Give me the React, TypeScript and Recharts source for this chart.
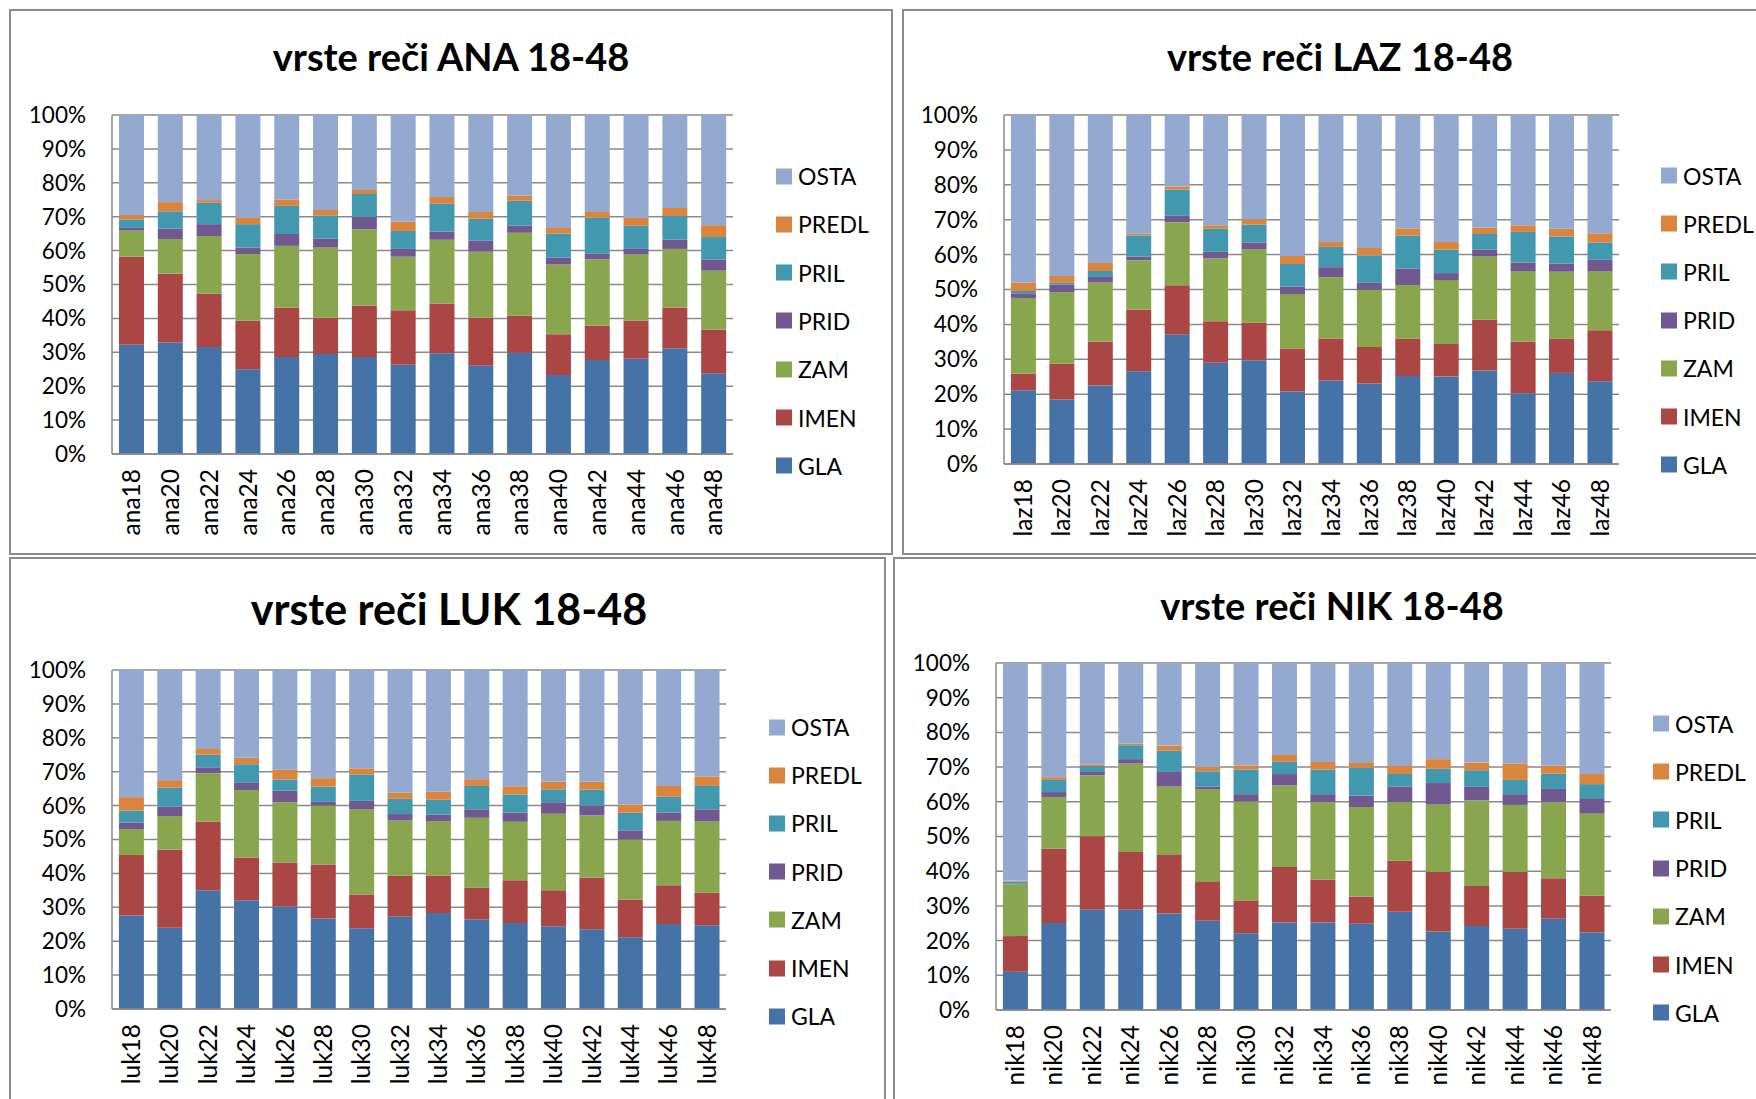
import React from 'react';
import { BarChart, Bar, XAxis, YAxis, CartesianGrid } from 'recharts';

// ---------- data ----------
const SERIES_NAMES = ['GLA', 'IMEN', 'ZAM', 'PRID', 'PRIL', 'PREDL', 'OSTA'];
const SERIES_COLORS = ['#4572A7', '#AA4643', '#89A54E', '#71588F', '#4198AF', '#DB843D', '#93A9CF'];
const Y_TICKS = [0, 0.1, 0.2, 0.3, 0.4, 0.5, 0.6, 0.7, 0.8, 0.9, 1];

const ANA_CATS = ['ana18', 'ana20', 'ana22', 'ana24', 'ana26', 'ana28', 'ana30', 'ana32', 'ana34', 'ana36', 'ana38', 'ana40', 'ana42', 'ana44', 'ana46', 'ana48'];
const ANA_GLA = [32.2, 32.9, 31.6, 25.0, 28.6, 29.5, 28.6, 26.3, 29.7, 26.0, 29.9, 23.3, 27.7, 28.1, 31.2, 23.8];
const ANA_IMEN = [26.0, 20.3, 15.7, 14.3, 14.6, 10.7, 15.2, 16.1, 14.7, 14.2, 10.9, 12.0, 10.2, 11.3, 12.0, 12.9];
const ANA_ZAM = [7.7, 10.2, 17.0, 19.7, 18.2, 20.7, 22.5, 15.8, 18.8, 19.5, 24.5, 20.6, 19.5, 19.5, 17.3, 17.4];
const ANA_PRID = [0.8, 3.1, 3.5, 1.9, 3.5, 2.6, 3.7, 2.3, 2.4, 3.3, 2.0, 2.0, 1.7, 1.6, 2.7, 3.2];
const ANA_PRIL = [2.5, 5.1, 6.3, 6.9, 8.3, 6.9, 6.7, 5.3, 8.2, 6.4, 7.4, 7.1, 10.6, 6.8, 7.0, 6.7];
const ANA_PREDL = [1.3, 2.7, 0.8, 1.9, 1.9, 1.6, 1.2, 2.7, 2.0, 2.0, 1.5, 1.7, 1.7, 2.4, 2.4, 3.5];
const ANA_OSTA = [29.5, 25.7, 25.1, 30.3, 24.9, 28.0, 22.1, 31.5, 24.2, 28.6, 23.8, 33.3, 28.6, 30.3, 27.4, 32.5];

const LAZ_CATS = ['laz18', 'laz20', 'laz22', 'laz24', 'laz26', 'laz28', 'laz30', 'laz32', 'laz34', 'laz36', 'laz38', 'laz40', 'laz42', 'laz44', 'laz46', 'laz48'];
const LAZ_GLA = [21.1, 18.5, 22.5, 26.6, 37.0, 29.0, 29.7, 20.8, 23.9, 23.1, 25.2, 25.1, 26.8, 20.3, 26.1, 23.7];
const LAZ_IMEN = [4.8, 10.2, 12.6, 17.7, 14.2, 11.9, 10.8, 12.3, 12.0, 10.4, 10.7, 9.3, 14.5, 14.8, 9.8, 14.6];
const LAZ_ZAM = [21.7, 20.5, 16.9, 14.1, 18.1, 18.0, 21.0, 15.6, 17.6, 16.4, 15.4, 18.3, 18.2, 20.1, 19.2, 16.9];
const LAZ_PRID = [1.3, 2.2, 1.6, 1.0, 1.8, 1.9, 2.0, 2.1, 2.9, 2.0, 4.7, 2.0, 1.9, 2.5, 2.3, 3.3];
const LAZ_PRIL = [0.7, 0.5, 1.7, 6.1, 7.5, 6.6, 5.1, 6.5, 5.8, 7.9, 9.5, 6.7, 4.5, 8.8, 7.8, 5.0];
const LAZ_PREDL = [2.3, 2.0, 2.3, 0.5, 0.9, 1.0, 1.5, 2.3, 1.4, 2.1, 2.0, 2.2, 1.8, 1.9, 2.2, 2.6];
const LAZ_OSTA = [48.1, 46.1, 42.4, 34.0, 20.5, 31.6, 29.9, 40.4, 36.4, 38.1, 32.5, 36.4, 32.3, 31.6, 32.6, 33.9];

const LUK_CATS = ['luk18', 'luk20', 'luk22', 'luk24', 'luk26', 'luk28', 'luk30', 'luk32', 'luk34', 'luk36', 'luk38', 'luk40', 'luk42', 'luk44', 'luk46', 'luk48'];
const LUK_GLA = [27.6, 24.0, 35.0, 32.1, 30.2, 26.7, 23.8, 27.2, 28.3, 26.5, 25.4, 24.4, 23.5, 21.2, 25.1, 24.7];
const LUK_IMEN = [17.8, 23.0, 20.3, 12.6, 13.0, 15.9, 10.0, 12.1, 11.1, 9.3, 12.6, 10.6, 15.3, 11.1, 11.4, 9.6];
const LUK_ZAM = [7.7, 9.9, 14.2, 19.9, 17.8, 17.4, 25.1, 16.3, 15.9, 20.6, 17.2, 22.6, 18.3, 17.7, 19.0, 21.0];
const LUK_PRID = [1.9, 2.8, 1.8, 2.1, 3.4, 1.1, 2.5, 1.9, 2.0, 2.5, 2.8, 3.4, 2.9, 2.7, 2.4, 3.6];
const LUK_PRIL = [3.5, 5.6, 3.7, 5.5, 3.3, 4.5, 7.8, 4.5, 4.4, 6.9, 5.3, 3.8, 4.7, 5.2, 4.7, 6.9];
const LUK_PREDL = [4.0, 2.2, 1.7, 1.9, 2.9, 2.5, 1.8, 1.8, 2.4, 2.0, 2.4, 2.2, 2.3, 2.4, 3.2, 2.8];
const LUK_OSTA = [37.5, 32.5, 23.3, 25.9, 29.4, 31.9, 29.0, 36.2, 35.9, 32.2, 34.3, 33.0, 33.0, 39.7, 34.2, 31.4];

const NIK_CATS = ['nik18', 'nik20', 'nik22', 'nik24', 'nik26', 'nik28', 'nik30', 'nik32', 'nik34', 'nik36', 'nik38', 'nik40', 'nik42', 'nik44', 'nik46', 'nik48'];
const NIK_GLA = [11.0, 25.1, 28.9, 28.9, 27.8, 25.7, 22.1, 25.2, 25.2, 24.9, 28.3, 22.6, 24.2, 23.4, 26.3, 22.3];
const NIK_IMEN = [10.3, 21.4, 21.2, 16.6, 16.9, 11.2, 9.5, 16.0, 12.4, 7.8, 14.7, 17.2, 11.5, 16.4, 11.7, 10.6];
const NIK_ZAM = [14.9, 14.9, 17.5, 25.5, 19.7, 26.7, 28.5, 23.5, 22.3, 25.8, 16.9, 19.4, 24.7, 19.3, 21.9, 23.7];
const NIK_PRID = [0.2, 1.4, 1.0, 1.3, 4.2, 0.8, 2.1, 3.3, 2.3, 3.3, 4.5, 6.2, 3.9, 3.1, 3.8, 4.2];
const NIK_PRIL = [0.6, 3.5, 1.7, 4.0, 6.1, 4.4, 7.1, 3.5, 7.1, 8.0, 3.6, 4.1, 4.8, 4.1, 4.4, 4.3];
const NIK_PREDL = [0.3, 0.8, 0.5, 0.4, 1.5, 1.2, 1.2, 2.0, 2.2, 1.4, 2.3, 2.8, 2.2, 4.7, 2.3, 2.9];
const NIK_OSTA = [62.7, 32.9, 29.2, 23.3, 23.8, 30.0, 29.5, 26.5, 28.5, 28.8, 29.7, 27.7, 28.7, 29.0, 29.6, 32.0];

// ---------- helpers ----------
type Row = { [k: string]: string | number };

function buildRows(cats: string[], series: number[][]): Row[] {
  return cats.map((c, i) => {
    const row: Row = { cat: c };
    SERIES_NAMES.forEach((name, s) => {
      row[name] = series[s][i];
    });
    return row;
  });
}

const FONT = 'Lato, "Open Sans", sans-serif';

const XTick = (props: any) => {
  const { x, y, payload } = props;
  return (
    <g transform={`translate(${x},${y + 15})`}>
      <text transform="rotate(-90)" textAnchor="end" dy="0.36em" fontSize={24.5} fontFamily={FONT} fill="#000">
        {payload.value}
      </text>
    </g>
  );
};

type PanelProps = {
  title: string;
  titleSize: number;
  titleX: number;
  titleY: number;
  plot: { x: number; y: number; w: number; h: number };
  legendX: number;
  legendY0: number;
  legendStep: number;
  border: { l: number; t: number; w: number; h: number };
  rows: Row[];
};

const Y_W = 100;
const M_TOP = 22;
const M_RIGHT = 10;
const X_H = 100;

function Panel(p: PanelProps) {
  const chartLeft = p.plot.x - Y_W;
  const chartTop = p.plot.y - M_TOP;
  const chartW = Y_W + p.plot.w + M_RIGHT;
  const chartH = M_TOP + p.plot.h + X_H;
  const legendItems = SERIES_NAMES.map((n, i) => ({ name: n, color: SERIES_COLORS[i] })).reverse();
  return (
    <>
      <div
        style={{
          position: 'absolute',
          left: p.border.l,
          top: p.border.t,
          width: p.border.w,
          height: p.border.h,
          border: '2px solid #8c8c8c',
          boxSizing: 'border-box',
        }}
      />
      <div
        style={{
          position: 'absolute',
          left: p.titleX,
          top: p.titleY,
          transform: 'translate(-50%, -50%)',
          fontFamily: FONT,
          fontWeight: 700,
          fontSize: p.titleSize,
          lineHeight: 1,
          whiteSpace: 'nowrap',
          color: '#000',
        }}
      >
        {p.title}
      </div>
      <div style={{ position: 'absolute', left: chartLeft, top: chartTop }}>
        <BarChart
          width={chartW}
          height={chartH}
          data={p.rows}
          stackOffset="expand"
          barCategoryGap="18%"
          margin={{ top: M_TOP, right: M_RIGHT, bottom: 0, left: 0 }}
        >
          <CartesianGrid horizontal vertical={false} stroke="#8a8a8a" strokeWidth={1.5} />
          <XAxis
            dataKey="cat"
            interval={0}
            height={X_H}
            tickLine={false}
            tickSize={0}
            tickMargin={0}
            axisLine={{ stroke: '#8a8a8a', strokeWidth: 1.5 }}
            tick={<XTick />}
          />
          <YAxis
            type="number"
            domain={[0, 1]}
            ticks={Y_TICKS}
            interval={0}
            width={Y_W}
            tickLine={false}
            tickSize={0}
            tickMargin={26}
            axisLine={{ stroke: '#8a8a8a', strokeWidth: 1.5 }}
            tickFormatter={(v: number) => `${Math.round(v * 100)}%`}
            tick={{ fontSize: 22.5, fontFamily: FONT, fill: '#000' }}
          />
          {SERIES_NAMES.map((n, i) => (
            <Bar key={n} dataKey={n} stackId="a" fill={SERIES_COLORS[i]} isAnimationActive={false} />
          ))}
        </BarChart>
      </div>
      {legendItems.map((it, i) => (
        <div
          key={it.name}
          style={{
            position: 'absolute',
            left: p.legendX,
            top: p.legendY0 + i * p.legendStep,
            transform: 'translateY(-50%)',
            display: 'flex',
            alignItems: 'center',
            fontFamily: FONT,
            fontSize: 23,
            lineHeight: 1,
            color: '#000',
            whiteSpace: 'nowrap',
          }}
        >
          <span style={{ display: 'inline-block', width: 16, height: 16, background: it.color, marginRight: 6 }} />
          <span>{it.name}</span>
        </div>
      ))}
    </>
  );
}

export default function App() {
  const anaRows = buildRows(ANA_CATS, [ANA_GLA, ANA_IMEN, ANA_ZAM, ANA_PRID, ANA_PRIL, ANA_PREDL, ANA_OSTA]);
  const lazRows = buildRows(LAZ_CATS, [LAZ_GLA, LAZ_IMEN, LAZ_ZAM, LAZ_PRID, LAZ_PRIL, LAZ_PREDL, LAZ_OSTA]);
  const lukRows = buildRows(LUK_CATS, [LUK_GLA, LUK_IMEN, LUK_ZAM, LUK_PRID, LUK_PRIL, LUK_PREDL, LUK_OSTA]);
  const nikRows = buildRows(NIK_CATS, [NIK_GLA, NIK_IMEN, NIK_ZAM, NIK_PRID, NIK_PRIL, NIK_PREDL, NIK_OSTA]);
  return (
    <div
      style={{
        position: 'absolute',
        left: 0,
        top: 0,
        width: 1756,
        height: 1099,
        overflow: 'hidden',
        background: '#fff',
      }}
    >
      <Panel
        title="vrste reči ANA 18-48"
        titleSize={38}
        titleX={451}
        titleY={56}
        plot={{ x: 112, y: 115, w: 621, h: 339 }}
        legendX={776}
        legendY0={176}
        legendStep={48.3}
        border={{ l: 9, t: 9, w: 884, h: 546 }}
        rows={anaRows}
      />
      <Panel
        title="vrste reči LAZ 18-48"
        titleSize={38}
        titleX={1340}
        titleY={56}
        plot={{ x: 1004, y: 115, w: 615, h: 349 }}
        legendX={1661}
        legendY0={175.5}
        legendStep={48.2}
        border={{ l: 902, t: 9, w: 870, h: 546 }}
        rows={lazRows}
      />
      <Panel
        title="vrste reči LUK 18-48"
        titleSize={43}
        titleX={449}
        titleY={608}
        plot={{ x: 112, y: 670, w: 614, h: 339 }}
        legendX={769}
        legendY0={727}
        legendStep={48.2}
        border={{ l: 9, t: 557, w: 877, h: 560 }}
        rows={lukRows}
      />
      <Panel
        title="vrste reči NIK 18-48"
        titleSize={38}
        titleX={1332}
        titleY={605}
        plot={{ x: 996, y: 663, w: 615, h: 347 }}
        legendX={1653}
        legendY0={723.5}
        legendStep={48.2}
        border={{ l: 893, t: 557, w: 880, h: 560 }}
        rows={nikRows}
      />
    </div>
  );
}
